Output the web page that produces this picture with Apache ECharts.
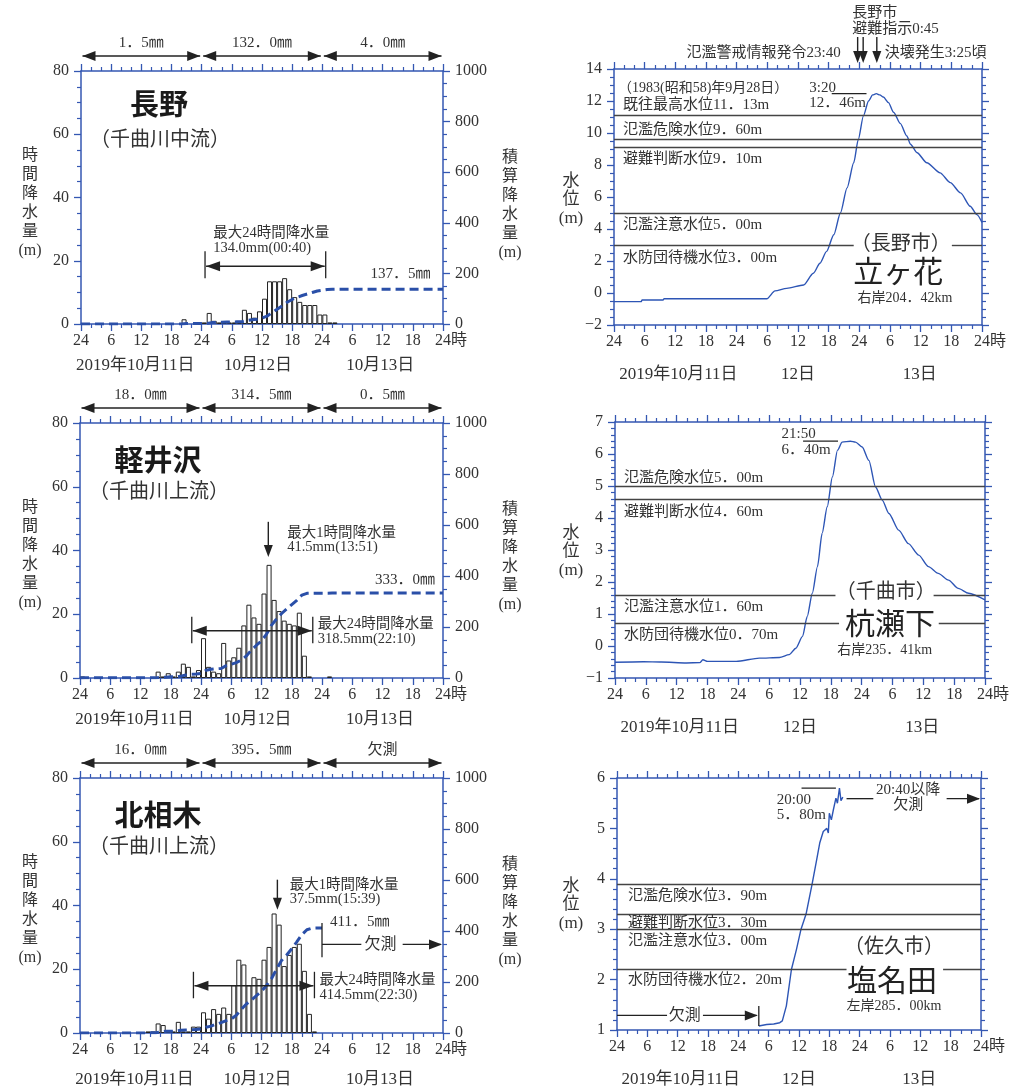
<!DOCTYPE html>
<html lang="ja"><head><meta charset="utf-8"><title>千曲川 降水量・水位</title>
<script src="https://cdn.jsdelivr.net/npm/echarts@6/dist/echarts.min.js"></script>
<style>html,body{margin:0;padding:0;background:#fff;}#c{width:1017px;height:1089px;}</style>
</head><body><div id="c"></div>
<script>
// ---------- tick / date labels ----------
const xTickLabels=['24','6','12','18','24','6','12','18','24','6','12','18','24時'];
const rainDateLabels=['2019年10月11日','10月12日','10月13日'];
const rainDateHours=[10.8,35.2,59.5];
const levelDateLabels=['2019年10月11日','12日','13日'];
const levelDateHours=[12.6,36,59.8];

// ---------- hourly rainfall (mm), index 0 = 10/11 0:00-1:00 ----------
const naganoRain=[
 0,0,0,0,0,0,0,0,0,0,0,0,0,0,0,0,0,0,0,0,1.5,0,0,0,
 0.5,3.5,1.0,0.5,0.5,0.5,0.5,0.5,4.5,3.5,2.0,4.0,8.0,13.5,13.5,13.5,14.5,11.0,8.5,7.0,6.0,6.0,6.0,3.0,
 3.0,0.5,0.5,0,0,0,0,0,0,0,0,0,0,0,0,0,0,0,0,0,0,0,0,0];
const karuizawaRain=[
 0.5,0,0,0,0,0,0,0,0,0,0,0,0,0,0,2.0,0.5,1.5,0.5,2.0,4.5,3.5,0.5,2.5,
 12.5,3.5,2.0,1.5,11.0,5.5,6.5,9.5,16.5,23.0,19.0,17.0,26.5,35.5,24.5,21.0,18.0,17.0,16.5,20.5,7.0,0.5,0,0,
 0,0.5,0,0,0,0,0,0,0,0,0,0,0,0,0,0,0,0,0,0,0,0,0,0];
const kitaaikiRain=[
 0,0,0,0,0,0,0,0,0,0,0,0,0,0.5,0.5,3.0,2.5,0.5,0.5,3.5,0.5,0.5,2.0,2.0,
 6.5,4.5,7.5,6.0,8.0,6.0,15.0,23.0,21.5,15.0,17.5,17.0,23.0,27.0,37.5,34.0,21.0,24.5,27.0,28.0,19.5,6.0,0.5,0];

// ---------- cumulative rainfall (mm) at hour ----------
const naganoCumH=[0,20,21,24,25,26,27,28,29,30,31,32,33,34,35,36,37,38,39,40,41,42,43,44,45,46,47,48,49,50,51,72];
const naganoCumMm=[0,0,1.5,1.5,2.0,5.5,6.5,7.0,7.5,8.0,8.5,9.0,13.5,17.0,19.0,23.0,31.0,44.5,58.0,71.5,86.0,97.0,105.5,112.5,118.5,124.5,130.5,133.5,136.5,137.0,137.5,137.5];
const karuizawaCumH=[0,1,15,16,17,18,19,20,21,22,23,24,25,26,27,28,29,30,31,32,33,34,35,36,37,38,39,40,41,42,43,44,45,46,49,50,72];
const karuizawaCumMm=[0,0.5,0.5,2.5,3.0,4.5,5.0,7.0,11.5,15.0,15.5,18.0,30.5,34.0,36.0,37.5,48.5,54.0,60.5,70.0,86.5,109.5,128.5,145.5,172.0,207.5,232.0,253.0,271.0,288.0,304.5,325.0,332.0,332.5,332.5,333.0,333.0];
const kitaaikiCumH=[0,13,14,15,16,17,18,19,20,21,22,23,24,25,26,27,28,29,30,31,32,33,34,35,36,37,38,39,40,41,42,43,44,45,46,47,48];
const kitaaikiCumMm=[0,0,0.5,1.0,4.0,6.5,7.0,7.5,11.0,11.5,12.0,14.0,16.0,22.5,27.0,34.5,40.5,48.5,54.5,69.5,92.5,114.0,129.0,146.5,163.5,186.5,213.5,251.0,285.0,306.0,330.5,357.5,385.5,405.0,411.0,411.5,411.5];

// ---------- daily totals / annotations ----------
const dailyTotals=[['1．5㎜','132．0㎜','4．0㎜'],['18．0㎜','314．5㎜','0．5㎜'],['16．0㎜','395．5㎜','欠測']];
const totalLabels=['137．5㎜','333．0㎜','411．5㎜'];
const totalValues=[137.5,333.0,411.5];
const max24Start=[24.67,22.17,22.5];
const max24End=[48.67,46.17,46.5];
const max24Text=['最大24時間降水量\n134.0mm(00:40)','最大24時間降水量\n318.5mm(22:10)','最大24時間降水量\n414.5mm(22:30)'];
const max1hEnd=[null,37.85,39.65];
const max1hText=[null,'最大1時間降水量\n41.5mm(13:51)','最大1時間降水量\n37.5mm(15:39)'];
const stationNames=['長野','軽井沢','北相木'];
const stationRivers=['（千曲川中流）','（千曲川上流）','（千曲川上流）'];

// ---------- water levels (hour, m) ----------
const tatekahanaH=[0,5.3,5.5,9.6,9.8,29.9,31.5,33.8,37.1,39.0,40.3,41.6,43.0,44.3,45.6,46.9,47.8,48.8,49.8,50.6,51.33,52.0,52.7,53.7,54.7,56.0,57.3,58.0,59.3,61.2,63.8,65.8,67.8,69.7,71.0,72];
const tatekahanaLv=[-0.54,-0.54,-0.44,-0.44,-0.36,-0.36,0.13,0.29,0.5,1.23,1.86,2.6,3.64,5.0,6.57,8.14,9.6,11.07,12.0,12.38,12.46,12.38,12.25,11.9,11.3,10.6,9.81,9.3,8.77,8.14,7.51,6.9,6.26,5.42,4.9,4.41];
const kuiseshitaH=[0,5.5,9,13.9,16.5,17.1,18,23.6,28.1,32,33.9,35.2,36.5,37.4,38.4,39.4,40.3,41.3,42.3,43.3,44.2,45.83,46.8,48.1,49.4,50.7,52,53.3,55.2,57.1,59.1,61,62.9,64.9,66.8,68.8,72];
const kuiseshitaLv=[-0.51,-0.49,-0.5,-0.53,-0.52,-0.43,-0.48,-0.48,-0.38,-0.36,-0.27,-0.07,0.3,0.92,1.65,2.48,3.52,4.35,5.28,6.12,6.37,6.40,6.37,6.22,5.8,4.97,4.56,4.14,3.62,3.2,2.84,2.48,2.27,2.06,1.8,1.65,1.44];
const shionadaH=[28.05,29.6,31.0,32.2,32.7,33.5,34.5,35.5,36.4,37.4,38.6,39.5,40.1,40.8,41.5,41.8,42.0,42.4,42.8,43.3,43.6,44.0,44.3,44.67];
const shionadaLv=[1.08,1.11,1.12,1.145,1.18,1.48,2.2,2.6,3.0,3.3,3.9,4.38,4.71,4.94,5.0,4.91,5.3,5.17,5.37,5.6,5.5,5.8,5.55,5.62];

// thresholds
const tatekahanaLevels=[11.13,9.60,9.10,5.00,3.00];
const tatekahanaLevelText=['既往最高水位11．13m','氾濫危険水位9．60m','避難判断水位9．10m','氾濫注意水位5．00m','水防団待機水位3．00m'];
const kuiseshitaLevels=[5.00,4.60,1.60,0.70];
const kuiseshitaLevelText=['氾濫危険水位5．00m','避難判断水位4．60m','氾濫注意水位1．60m','水防団待機水位0．70m'];
const shionadaLevels=[3.90,3.30,3.00,2.20];
const shionadaLevelText=['氾濫危険水位3．90m','避難判断水位3．30m','氾濫注意水位3．00m','水防団待機水位2．20m'];

// ---------- layout & style ----------
const BLUE='#3457b2', TXT='#333', INK='#222', CUM='#2a4fa8', LV='#2d55b5', THR='#444';
const FONT="'Liberation Serif','Noto Sans CJK JP',serif";
const CJK="'Noto Sans CJK JP',sans-serif";
const grids=[
 {left:81,top:71,width:362,height:253},
 {left:80,top:423,width:363,height:255},
 {left:80,top:778,width:363,height:255},
 {left:614,top:69,width:368,height:256},
 {left:615,top:422,width:370,height:256},
 {left:617,top:778,width:364,height:252}
];
const tatekahanaLabelDy=[-10,-9,12,12,13], tatekahanaGaps=[null,null,null,null,[46.9,66.1]];
const kuiseshitaLabelDy=[-8,13,12,11], kuiseshitaGaps=[null,null,[42.9,62],[43.6,63]];
const shionadaLabelDy=[12,9,12,11], shionadaGaps=[null,null,null,[45.4,64.5]];

function xAx(g,pos){
 return {type:'value',gridIndex:g,position:pos,min:0,max:72,interval:6,
  axisLine:{show:true,onZero:false,lineStyle:{color:BLUE,width:1.5}},
  axisTick:{show:true,length:7,lineStyle:{color:BLUE,width:1.3}},
  minorTick:{show:true,splitNumber:3,length:4,lineStyle:{color:BLUE,width:1.2}},
  splitLine:{show:false},minorSplitLine:{show:false},
  axisLabel:{show:pos==='bottom',margin:9,color:TXT,fontSize:16,fontFamily:FONT,
   showMinLabel:true,showMaxLabel:true,hideOverlap:false,
   formatter:v=>xTickLabels[Math.round(v/6)].replace('時','')}};
}
function yAx(g,pos,min,max,interval,minor,showLabel){
 return {type:'value',gridIndex:g,position:pos,min,max,interval,
  axisLine:{show:true,onZero:false,lineStyle:{color:BLUE,width:1.5}},
  axisTick:{show:true,length:7,lineStyle:{color:BLUE,width:1.3}},
  minorTick:{show:true,splitNumber:minor,length:4,lineStyle:{color:BLUE,width:1.2}},
  splitLine:{show:false},minorSplitLine:{show:false},
  axisLabel:{show:showLabel,margin:12,color:TXT,fontSize:16,fontFamily:FONT,
   showMinLabel:true,showMaxLabel:true,hideOverlap:false,
   formatter:v=>v<0?'\u2212'+(-v):String(v)}};
}
const pairs=(xs,ys)=>xs.map((x,i)=>[x,ys[i]]);
const bars=arr=>arr.map((v,i)=>[i+0.5,v]).filter(d=>d[1]>0);
function segs(levels,gaps){
 const s=[];
 levels.forEach((v,i)=>{const gp=gaps[i];
  if(gp){s.push([{coord:[0,v]},{coord:[gp[0],v]}]);s.push([{coord:[gp[1],v]},{coord:[72,v]}]);}
  else s.push([{coord:[0,v]},{coord:[72,v]}]);});
 return s;
}

const xAxes=[],yAxes=[];
for(let g=0;g<6;g++){xAxes.push(xAx(g,'bottom'),xAx(g,'top'));}
for(let g=0;g<3;g++){yAxes.push(yAx(g,'left',0,80,20,4,true),yAx(g,'right',0,1000,200,4,true));}
yAxes.push(yAx(3,'left',-2,14,2,4,true),yAx(3,'right',-2,14,2,4,false));
yAxes.push(yAx(4,'left',-1,7,1,5,true),yAx(4,'right',-1,7,1,5,false));
yAxes.push(yAx(5,'left',1,6,1,5,true),yAx(5,'right',1,6,1,5,false));

const rains=[naganoRain,karuizawaRain,kitaaikiRain];
const cums=[pairs(naganoCumH,naganoCumMm),pairs(karuizawaCumH,karuizawaCumMm),pairs(kitaaikiCumH,kitaaikiCumMm)];
const series=[];
for(let g=0;g<3;g++){
 series.push({type:'bar',xAxisIndex:2*g,yAxisIndex:2*g,data:bars(rains[g]),barWidth:grids[g].width/72,silent:true,
  itemStyle:{color:'#fff',borderColor:INK,borderWidth:1}});
 series.push({type:'line',xAxisIndex:2*g,yAxisIndex:2*g+1,data:cums[g],symbol:'none',silent:true,z:5,
  lineStyle:{color:CUM,width:3,type:[9,5]}});
}
const lv=[[pairs(tatekahanaH,tatekahanaLv),segs(tatekahanaLevels,tatekahanaGaps),0.25],
 [pairs(kuiseshitaH,kuiseshitaLv),segs(kuiseshitaLevels,kuiseshitaGaps),0.25],
 [pairs(shionadaH,shionadaLv),segs(shionadaLevels,shionadaGaps),0]];
lv.forEach((d,i)=>{const g=3+i;
 series.push({type:'line',xAxisIndex:2*g,yAxisIndex:2*g,data:d[0],symbol:'none',silent:true,
  smooth:d[2],smoothMonotone:'x',lineStyle:{color:LV,width:1.4},z:4,
  markLine:{silent:true,symbol:['none','none'],label:{show:false},
   lineStyle:{color:THR,width:1.4,type:'solid'},emphasis:{disabled:true},data:d[1]}});
});

const chart=echarts.init(document.getElementById('c'));
chart.setOption({animation:false,backgroundColor:'#fff',grid:grids,xAxis:xAxes,yAxis:yAxes,series:series});

// ---------- annotations ----------
const P=(g,x,y,r)=>chart.convertToPixel({xAxisIndex:2*g,yAxisIndex:2*g+(r?1:0)},[x,y]);
function T(x,y,s,o){o=o||{};const a=o.align||'left';
 return {type:'text',z:100,silent:true,x:x,y:y,style:{text:s,fill:o.fill||TXT,fontSize:o.size||15,
  fontFamily:o.family||FONT,fontWeight:o.weight||'normal',align:a,textAlign:a,
  verticalAlign:'middle',textVerticalAlign:'middle',lineHeight:o.lh||16}};}
function L(x1,y1,x2,y2,w,c){return {type:'line',z:100,silent:true,shape:{x1,y1,x2,y2},style:{stroke:c||INK,lineWidth:w||1.3}};}
function H(x,y,dir,len,half){len=len||13;half=half||5;let p;
 if(dir==='r')p=[[x,y],[x-len,y-half],[x-len,y+half]];
 else if(dir==='l')p=[[x,y],[x+len,y-half],[x+len,y+half]];
 else p=[[x,y],[x-half,y-len],[x+half,y-len]];
 return {type:'polygon',z:100,silent:true,shape:{points:p},style:{fill:INK}};}
const els=[];

for(let g=0;g<6;g++){
 const top=grids[g].top,bottom=grids[g].top+grids[g].height;
 const dl=g<3?rainDateLabels:levelDateLabels,dh=g<3?rainDateHours:levelDateHours;
 const dy=g<2?42:(g===2?47:50);
 dl.forEach((s,i)=>els.push(T(P(g,dh[i],0)[0],bottom+dy,s,{align:'center',size:17})));
 // unit suffix of the last tick label ("24時")
 const last=xTickLabels[xTickLabels.length-1];
 els.push(T(P(g,72,0)[0]+8,bottom+17,last.slice(last.length-1),{size:16}));
}
for(let g=0;g<3;g++){
 const top=grids[g].top,left=grids[g].left;
 els.push(T(30,top+132,'時\n間\n降\n水\n量\n(m)',{align:'center',size:16,lh:19}));
 els.push(T(510,top+134,'積\n算\n降\n水\n量\n(m)',{align:'center',size:16,lh:19}));
 els.push(T(left+78,top+(g===0?33:37),stationNames[g],{align:'center',size:29,weight:'bold',family:CJK,fill:'#1a1a1a'}));
 els.push(T(left+79,top+67,stationRivers[g],{align:'center',size:20,family:CJK}));
 for(let d=0;d<3;d++){
  const xa=P(g,24*d,0)[0]+1.5,xb=P(g,24*(d+1),0)[0]-1.5,y=top-15;
  els.push(L(xa,y,xb,y,1.5),H(xa,y,'l'),H(xb,y,'r'),T((xa+xb)/2,top-28,dailyTotals[g][d],{align:'center',size:15}));
 }
 const bx1=P(g,max24Start[g],0)[0],bx2=P(g,max24End[g],0)[0];
 const vTop=g===0?23:19.2,vBot=g===0?14.5:10.9,vArr=g===0?18.3:14.8;
 const yt=P(g,0,vTop)[1],yb=P(g,0,vBot)[1],ya=P(g,0,vArr)[1];
 els.push(L(bx1,yt,bx1,yb,1.3),L(bx2,yt,bx2,yb,1.3),L(bx1+1,ya,bx2-1,ya,1.5),H(bx1+1,ya,'l',14,5),H(bx2-1,ya,'r',14,5));
 if(g===0) els.push(T(P(g,26.3,0)[0],P(g,0,26.4)[1],max24Text[g],{size:14.5,lh:15.5}));
 else els.push(T(bx2+5,P(g,0,g===1?14.4:14.1)[1],max24Text[g],{size:14.5,lh:15}));
 if(max1hEnd[g]!==null){
  const ax=P(g,max1hEnd[g]-0.5,0)[0];
  const yTail=P(g,0,g===1?49:48.1)[1],yTip=P(g,0,g===1?38:38.7)[1];
  els.push(L(ax,yTail,ax,yTip-10,1.4),H(ax,yTip,'d',12,4.5));
  els.push(T(P(g,g===1?41.1:41.6,0)[0],P(g,0,g===1?43.3:44.1)[1],max1hText[g],{size:14.5,lh:14.5}));
 }
}
{
 let y=P(0,0,totalValues[0],true)[1];els.push(T(P(0,69.5,0)[0],y-15,totalLabels[0],{align:'right'}));
 y=P(1,0,totalValues[1],true)[1];els.push(T(P(1,70.4,0)[0],y-13,totalLabels[1],{align:'right'}));
 const bx=P(2,48,0)[0];
 y=P(2,0,totalValues[2],true)[1];els.push(T(bx+8,y-6,totalLabels[2],{}));
 const y1=P(2,0,34.5)[1],y2=P(2,0,23.8)[1],ym=P(2,0,27.8)[1];
 els.push(L(bx,y1,bx,y2,1.3),L(bx,ym,P(2,55.8,0)[0],ym,1.3),T(P(2,59.6,0)[0],ym,'欠測',{align:'center',size:16}),
  L(P(2,64,0)[0],ym,P(2,72,0)[0]-2,ym,1.3),H(P(2,72,0)[0]-1,ym,'r',13,5));
}
const lvInfo=[[tatekahanaLevels,tatekahanaLevelText,tatekahanaLabelDy,9],[kuiseshitaLevels,kuiseshitaLevelText,kuiseshitaLabelDy,9],[shionadaLevels,shionadaLevelText,shionadaLabelDy,11]];
const lvTitleDy=[131,130,127];
lvInfo.forEach((inf,i)=>{const g=3+i;
 els.push(T(571,grids[g].top+lvTitleDy[i],'水\n位\n(m)',{align:'center',size:17,lh:18.5}));
 inf[0].forEach((v,k)=>{const p=P(g,0,v);els.push(T(p[0]+inf[3],p[1]+inf[2][k],inf[1][k],{size:15}));});
});
{
 const g=3;
 els.push(T(P(g,0,0)[0]+4,P(g,0,12.8)[1],'（1983(昭和58)年9月28日）',{size:14}));
 els.push(T(P(g,38.2,0)[0],P(g,0,12.32)[1],'3:20\n12．46m',{size:15,lh:15}));
 const yp=P(g,0,12.46)[1];els.push(L(P(g,42.6,0)[0],yp,P(g,49.4,0)[0],yp,1.3));
 const t=[47.67,48.75,51.42];
 t.forEach(h=>{const x=P(g,h,0)[0];els.push(L(x,37,x,55,1.4),H(x,63,'d',12,4.5));});
 els.push(T(P(g,t[0],0)[0]-17,53,'氾濫警戒情報発令23:40',{align:'right',size:15}));
 els.push(T(P(g,t[1],0)[0]-11,21,'長野市\n避難指示0:45',{size:15,lh:16}));
 els.push(T(P(g,t[2],0)[0]+8,53,'決壊発生3:25頃',{size:15}));
 els.push(T(P(g,56.1,0)[0],P(g,0,3.14)[1],'（長野市）',{align:'center',size:20,family:CJK}));
 els.push(T(P(g,55.6,0)[0],P(g,0,1.39)[1],'立ヶ花',{align:'center',size:30,family:CJK,fill:INK}));
 els.push(T(P(g,56.9,0)[0],P(g,0,-0.33)[1],'右岸204．42km',{align:'center',size:14}));
}
{
 const g=4;
 els.push(T(P(g,32.4,0)[0],P(g,0,6.37)[1],'21:50\n6．40m',{size:15,lh:16}));
 const yp=P(g,0,6.40)[1];els.push(L(P(g,36.6,0)[0],yp,P(g,43.4,0)[0],yp,1.3));
 els.push(T(P(g,52.7,0)[0],P(g,0,1.73)[1],'（千曲市）',{align:'center',size:20,family:CJK}));
 els.push(T(P(g,53.5,0)[0],P(g,0,0.73)[1],'杭瀬下',{align:'center',size:30,family:CJK,fill:INK}));
 els.push(T(P(g,52.5,0)[0],P(g,0,-0.14)[1],'右岸235．41km',{align:'center',size:14}));
}
{
 const g=5;
 els.push(T(P(g,31.6,0)[0],P(g,0,5.42)[1],'20:00\n5．80m',{size:15,lh:15}));
 let yp=P(g,0,5.80)[1];els.push(L(P(g,36.5,0)[0],yp,P(g,43.3,0)[0],yp,1.3));
 yp=P(g,0,5.59)[1];
 els.push(L(P(g,45.4,0)[0],yp,P(g,50.7,0)[0],yp,1.3),T(P(g,57.6,0)[0],P(g,0,5.61)[1],'20:40以降\n欠測',{align:'center',size:15,lh:14.5}),
  L(P(g,65.2,0)[0],yp,P(g,72,0)[0]-2,yp,1.3),H(P(g,72,0)[0]-1,yp,'r',13,5));
 els.push(T(P(g,54.8,0)[0],P(g,0,2.67)[1],'（佐久市）',{align:'center',size:20,family:CJK}));
 els.push(T(P(g,54.4,0)[0],P(g,0,2.0)[1],'塩名田',{align:'center',size:30,family:CJK,fill:INK}));
 els.push(T(P(g,54.8,0)[0],P(g,0,1.46)[1],'左岸285．00km',{align:'center',size:14}));
 yp=P(g,0,1.29)[1];
 const bx=P(g,28.05,0)[0];
 els.push(L(P(g,0,0)[0],yp,P(g,9.9,0)[0],yp,1.3),T(P(g,13.4,0)[0],yp,'欠測',{align:'center',size:16}),
  L(P(g,17,0)[0],yp,bx-2,yp,1.3),H(bx-1,yp,'r',13,5),L(bx,P(g,0,1.475)[1],bx,P(g,0,1.08)[1],1.3));
}
chart.setOption({graphic:{elements:els}});
</script></body></html>
